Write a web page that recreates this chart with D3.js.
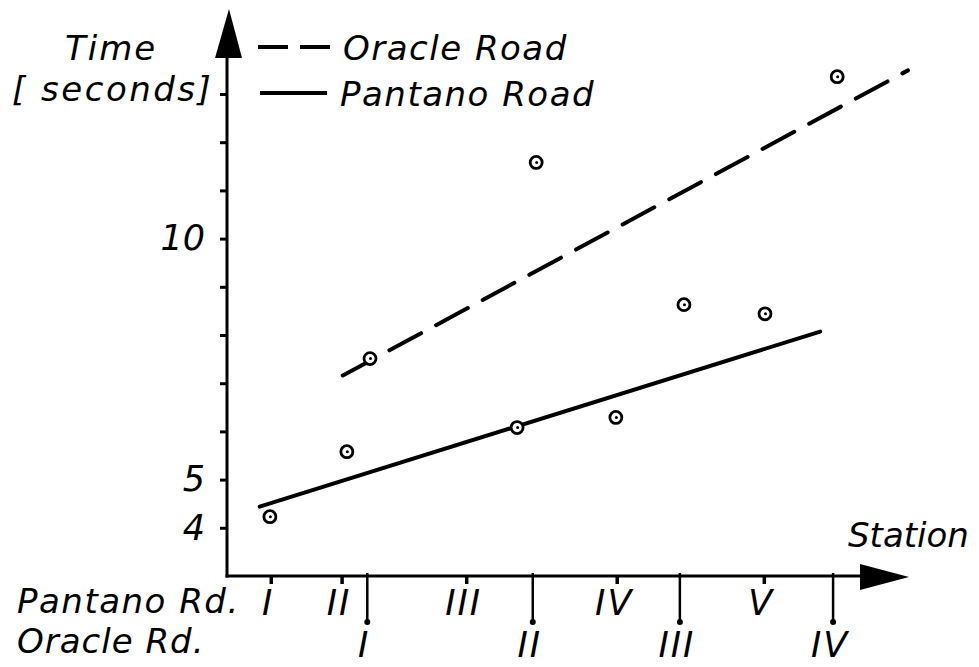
<!DOCTYPE html>
<html>
<head>
<meta charset="utf-8">
<script src="https://cdn.jsdelivr.net/npm/d3@7/dist/d3.min.js"></script>
<style>
  html, body { margin: 0; padding: 0; background: #fff; }
  svg text { font-family: "DejaVu Sans", sans-serif; font-style: italic; fill: #000; }
</style>
</head>
<body>
<svg id="chart" width="979" height="667"></svg>
<script>
// ---- data ----
const yTicks = [4, 5, 6, 7, 8, 9, 10, 11, 12, 13];
const yTickLabels = [4, 5, 10];
const pantanoStations = ["I", "II", "III", "IV", "V"];
const pantanoStationPos = [6.5, 16.9, 35.2, 57.3, 78.9];
const oracleStations = ["I", "II", "III", "IV"];
const oracleStationPos = [20.6, 44.9, 66.5, 89.0];
const pantanoX = [6.3, 17.6, 42.6, 57.1, 79.0];
const pantanoTime = [4.23, 5.58, 6.08, 6.29, 8.44];
const oracleX = [21.0, 45.4, 67.1, 89.6];
const oracleTime = [7.51, 11.58, 8.63, 13.36];
const pantanoFitX = [4.8, 87.1];
const pantanoFitTime = [4.44, 8.07];
const oracleFitX = [17.0, 100];
const oracleFitTime = [7.16, 13.49];
const legendLabels = ["Oracle Road", "Pantano Road"];

// ---- drawing ----
const svg = d3.select("#chart");
const x = d3.scaleLinear().domain([0, 100]).range([227, 908]);
const y = d3.scaleLinear().domain([3, 13]).range([576, 94]);

// axes lines
svg.append("line").attr("x1", 227).attr("x2", 227).attr("y1", y(3) + 1.5).attr("y2", 40)
  .attr("stroke", "#000").attr("stroke-width", 3);
svg.append("line").attr("x1", 225.5).attr("x2", 880).attr("y1", y(3)).attr("y2", y(3))
  .attr("stroke", "#000").attr("stroke-width", 3);
// arrow heads
svg.append("path").attr("d", "M229,9 L242,58 L215,58 Z").attr("fill", "#000");
svg.append("path").attr("d", "M909,577 L860,590 L860,564 Z").attr("fill", "#000");

// y axis ticks
const yAxis = d3.axisLeft(y).tickValues(yTicks).tickSize(7).tickPadding(15)
  .tickFormat(d => yTickLabels.includes(d) ? d : "");
const gy = svg.append("g").attr("transform", "translate(227,0)").call(yAxis);
gy.attr("font-family", null).attr("font-size", null);
gy.select(".domain").remove();
gy.selectAll(".tick line").attr("stroke", "#000").attr("stroke-width", 3);
gy.selectAll(".tick text").attr("font-size", 35).attr("fill", "#000")
  .style("font-family", '"DejaVu Sans", sans-serif').style("font-style", "italic");

// Pantano station ticks (short)
svg.selectAll(".ptick").data(pantanoStationPos).join("line")
  .attr("x1", d => x(d)).attr("x2", d => x(d))
  .attr("y1", y(3)).attr("y2", y(3) + 8)
  .attr("stroke", "#000").attr("stroke-width", 3.5);
svg.selectAll(".plab").data(pantanoStations).join("text")
  .attr("x", (d, i) => x(pantanoStationPos[i]) - 3)
  .attr("y", 615).attr("text-anchor", "middle").attr("font-size", 35)
  .attr("letter-spacing", 2)
  .text(d => d);

// Oracle station ticks (long with dot)
svg.selectAll(".otick").data(oracleStationPos).join("line")
  .attr("x1", d => x(d)).attr("x2", d => x(d))
  .attr("y1", y(3) - 3).attr("y2", 622)
  .attr("stroke", "#000").attr("stroke-width", 2.5);
svg.selectAll(".odot").data(oracleStationPos).join("circle")
  .attr("cx", d => x(d)).attr("cy", 622).attr("r", 3).attr("fill", "#000");
svg.selectAll(".olab").data(oracleStations).join("text")
  .attr("x", (d, i) => x(oracleStationPos[i]) - 3)
  .attr("y", 657).attr("text-anchor", "middle").attr("font-size", 35)
  .attr("letter-spacing", 2)
  .text(d => d);

// fit lines
const line = d3.line().x(d => x(d[0])).y(d => y(d[1]));
svg.append("path").attr("d", line(d3.zip(pantanoFitX, pantanoFitTime)))
  .attr("fill", "none").attr("stroke", "#000").attr("stroke-width", 4).attr("stroke-linecap", "round");
svg.append("path").attr("d", line(d3.zip(oracleFitX, oracleFitTime)))
  .attr("fill", "none").attr("stroke", "#000").attr("stroke-width", 4).attr("stroke-linecap", "round")
  .attr("stroke-dasharray", "36,17");

// points
function drawPoints(xs, ts) {
  const g = svg.append("g");
  const pts = d3.zip(xs, ts);
  g.selectAll("circle.o").data(pts).join("circle")
    .attr("cx", d => x(d[0])).attr("cy", d => y(d[1])).attr("r", 6)
    .attr("fill", "#fff").attr("stroke", "#000").attr("stroke-width", 2.8);
  g.selectAll("circle.i").data(pts).join("circle")
    .attr("cx", d => x(d[0]) + 0.5).attr("cy", d => y(d[1])).attr("r", 1.5)
    .attr("fill", "#000");
}
drawPoints(pantanoX, pantanoTime);
drawPoints(oracleX, oracleTime);

// legend
svg.append("line").attr("x1", 258).attr("x2", 335).attr("y1", 47).attr("y2", 47)
  .attr("stroke", "#000").attr("stroke-width", 4).attr("stroke-dasharray", "30,12");
svg.append("line").attr("x1", 260).attr("x2", 327).attr("y1", 93).attr("y2", 93)
  .attr("stroke", "#000").attr("stroke-width", 4);
svg.append("text").attr("x", 343).attr("y", 60).attr("font-size", 34).attr("letter-spacing", 1.5)
  .text(legendLabels[0]);
svg.append("text").attr("x", 340).attr("y", 106).attr("font-size", 34).attr("letter-spacing", 1.5)
  .text(legendLabels[1]);

// axis titles
svg.append("text").attr("x", 65).attr("y", 60).attr("font-size", 34).attr("letter-spacing", 2)
  .text("Time");
svg.append("text").attr("x", 12).attr("y", 101).attr("font-size", 34).attr("letter-spacing", 2.5)
  .text("[ seconds]");
svg.append("text").attr("x", 848).attr("y", 547).attr("font-size", 34)
  .text("Station");
svg.append("text").attr("x", 17).attr("y", 613).attr("font-size", 34).attr("letter-spacing", 1.5)
  .text("Pantano Rd.");
svg.append("text").attr("x", 17).attr("y", 653).attr("font-size", 34).attr("letter-spacing", 1)
  .text("Oracle Rd.");
</script>
</body>
</html>
